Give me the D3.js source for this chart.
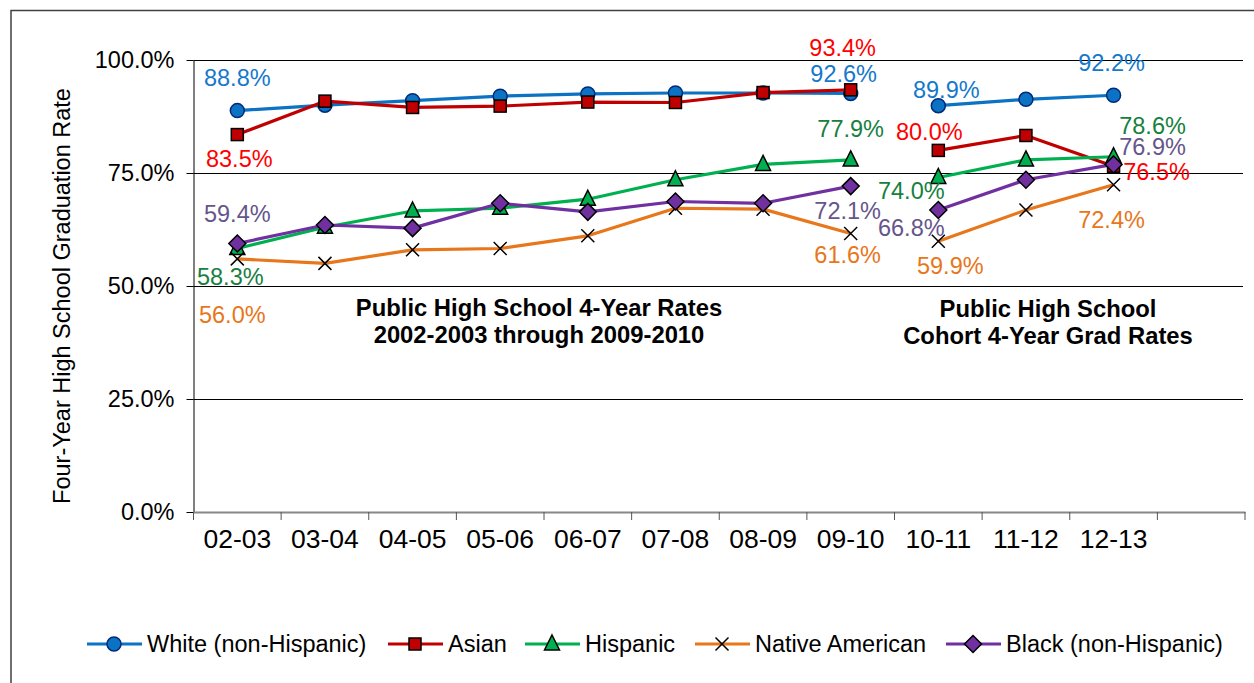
<!DOCTYPE html>
<html>
<head>
<meta charset="utf-8">
<script src="https://cdn.jsdelivr.net/npm/d3@7"></script>
<style>
  body { margin: 0; background: #fff; }
  text { font-family: "Liberation Sans", Arial, sans-serif; }
</style>
</head>
<body>
<svg id="chart" width="1254" height="683"></svg>
<script>
// school years on the x axis (last slot is empty in the original)
var years = ["02-03", "03-04", "04-05", "05-06", "06-07", "07-08", "08-09", "09-10", "10-11", "11-12", "12-13"];
var yTicks = [0, 25, 50, 75, 100];

// graduation rates (%)
var white    = [88.8, 90.0, 91.0, 92.0, 92.5, 92.7, 92.7, 92.6, 89.9, 91.3, 92.2];
var asian    = [83.5, 90.9, 89.5, 89.8, 90.7, 90.6, 92.8, 93.4, 80.0, 83.3, 76.5];
var hispanic = [58.3, 63.0, 66.6, 67.2, 69.2, 73.5, 76.9, 77.9, 74.0, 77.9, 78.6];
var native   = [56.0, 55.0, 58.0, 58.3, 61.1, 67.2, 67.0, 61.6, 59.9, 66.8, 72.4];
var black    = [59.4, 63.5, 62.8, 68.3, 66.4, 68.7, 68.3, 72.1, 66.8, 73.5, 76.9];

// the 4-year rate series ends at 09-10, cohort rates start at 10-11
var breakAt = 8;

var series = [
  { name: "White (non-Hispanic)", values: white, line: "#0c72c4", label: "#1478cc", marker: "circle" },
  { name: "Asian", values: asian, line: "#c00000", label: "#ff0000", marker: "square" },
  { name: "Hispanic", values: hispanic, line: "#00b050", label: "#16803e", marker: "triangle" },
  { name: "Native American", values: native, line: "#e8761a", label: "#e8761a", marker: "cross" },
  { name: "Black (non-Hispanic)", values: black, line: "#7030a0", label: "#66558c", marker: "diamond" }
];

// which points get a value label, and where the label sits relative to the point
var labelSpots = {
  "White (non-Hispanic)": [[0, 0, -33], [7, -7, -20], [8, 8, -16], [10, -2, -32]],
  "Asian": [[0, 2, 24], [7, -8, -42], [8, -9, -19], [10, 43, 6]],
  "Hispanic": [[0, -7, 28], [7, 0, -31], [8, -27, 13], [10, 39, -31]],
  "Native American": [[0, -5, 56], [7, -3, 21], [8, 12, 25], [10, -2, 35]],
  "Black (non-Hispanic)": [[0, 0, -30], [7, -3, 25], [8, -27, 18], [10, 39, -18]]
};

var svg = d3.select("#chart");

// outer frame
svg.append("rect")
  .attr("x", 11).attr("y", 10.5)
  .attr("width", 1400).attr("height", 800)
  .attr("fill", "none")
  .attr("stroke", "#404040")
  .attr("stroke-width", 1.5);

var plotLeft = 193.5, plotRight = 1245, plotTop = 60, plotBottom = 512;

var x = d3.scaleBand()
  .domain(years.concat([""]))
  .range([plotLeft, plotRight])
  .padding(0);
var y = d3.scaleLinear().domain([0, 100]).range([plotBottom, plotTop]);

var cx = function (i) { return x(years[i]) + x.bandwidth() / 2; };

// horizontal gridlines
svg.append("g")
  .selectAll("line")
  .data(yTicks.filter(function (d) { return d > 0; }))
  .enter()
  .append("line")
  .attr("x1", plotLeft).attr("x2", 1243)
  .attr("y1", function (d) { return Math.round(y(d)) + 0.5; })
  .attr("y2", function (d) { return Math.round(y(d)) + 0.5; })
  .attr("stroke", "#000")
  .attr("stroke-width", 1);

// y axis
var yAxis = svg.append("g")
  .attr("transform", "translate(" + plotLeft + ",0)")
  .call(d3.axisLeft(y).tickValues(yTicks).tickSize(7).tickSizeOuter(0)
    .tickFormat(function (d) { return d.toFixed(1) + "%"; }));
yAxis.select(".domain").attr("stroke", "#000");
yAxis.selectAll(".tick line").attr("stroke", "#000");
yAxis.selectAll(".tick text")
  .attr("x", -19)
  .attr("font-size", "23.5px")
  .attr("fill", "#000")
  .style("font-family", "'Liberation Sans', Arial, sans-serif");

// x axis: labels at band centres, tick marks at band edges
var xAxis = svg.append("g")
  .attr("transform", "translate(0," + plotBottom + ")")
  .call(d3.axisBottom(x).tickValues(years).tickSize(0).tickSizeOuter(0));
xAxis.select(".domain").attr("stroke", "#888").attr("stroke-width", 2);
xAxis.selectAll(".tick text")
  .attr("y", 17)
  .attr("font-size", "26.5px")
  .attr("fill", "#000")
  .style("font-family", "'Liberation Sans', Arial, sans-serif");
svg.append("g")
  .selectAll("line")
  .data(x.domain())
  .enter()
  .append("line")
  .attr("x1", function (d) { return x(d); })
  .attr("x2", function (d) { return x(d); })
  .attr("y1", plotBottom).attr("y2", plotBottom + 8)
  .attr("stroke", "#555");
svg.append("line")
  .attr("x1", plotRight).attr("x2", plotRight)
  .attr("y1", plotBottom).attr("y2", plotBottom + 8)
  .attr("stroke", "#555");

// y axis title
svg.append("text")
  .attr("transform", "translate(70,296) rotate(-90)")
  .attr("text-anchor", "middle")
  .attr("font-size", "23.5px")
  .text("Four-Year High School Graduation Rate");

// annotations
function block(cxp, cyp, lines) {
  var t = svg.append("text")
    .attr("text-anchor", "middle")
    .attr("font-size", "23.8px")
    .attr("font-weight", "bold");
  lines.forEach(function (l, i) {
    t.append("tspan").attr("x", cxp).attr("y", cyp + i * 26.5).text(l);
  });
}
block(539, 316, ["Public High School 4-Year Rates", "2002-2003 through 2009-2010"]);
block(1048, 317, ["Public High School", "Cohort 4-Year Grad Rates"]);

function drawMarker(g, type, color) {
  if (type === "circle") {
    g.append("circle").attr("r", 7).attr("fill", color).attr("stroke", "#002a7a").attr("stroke-width", 1.5);
  } else if (type === "square") {
    g.append("rect").attr("x", -6).attr("y", -6).attr("width", 12).attr("height", 12)
      .attr("fill", color).attr("stroke", "#000").attr("stroke-width", 1.5);
  } else if (type === "triangle") {
    g.append("path").attr("d", "M0,-9L7.5,6L-7.5,6Z")
      .attr("fill", color).attr("stroke", "#000").attr("stroke-width", 1.5);
  } else if (type === "diamond") {
    g.append("path").attr("d", "M0,-8.5L8.5,0L0,8.5L-8.5,0Z")
      .attr("fill", color).attr("stroke", "#000").attr("stroke-width", 1.5);
  } else if (type === "cross") {
    g.append("path").attr("d", "M-6.5,-6.5L6.5,6.5M-6.5,6.5L6.5,-6.5")
      .attr("fill", "none").attr("stroke", "#000").attr("stroke-width", 1.5);
  }
}

var line = d3.line()
  .x(function (d) { return cx(d.i); })
  .y(function (d) { return y(d.v); });

series.forEach(function (s) {
  var pts = s.values.map(function (v, i) { return { i: i, v: v }; });
  var g = svg.append("g");
  [pts.slice(0, breakAt), pts.slice(breakAt)].forEach(function (seg) {
    g.append("path")
      .attr("d", line(seg))
      .attr("fill", "none")
      .attr("stroke", s.line)
      .attr("stroke-width", 3.2)
      .attr("stroke-linejoin", "round");
  });
  pts.forEach(function (p) {
    var m = g.append("g").attr("transform", "translate(" + cx(p.i) + "," + y(p.v) + ")");
    drawMarker(m, s.marker, s.line);
  });
});

// value labels
series.forEach(function (s) {
  labelSpots[s.name].forEach(function (spot) {
    var i = spot[0];
    svg.append("text")
      .attr("x", cx(i) + spot[1])
      .attr("y", y(s.values[i]) + spot[2])
      .attr("dy", "0.35em")
      .attr("text-anchor", "middle")
      .attr("font-size", "23.5px")
      .attr("fill", s.label)
      .text(s.values[i].toFixed(1) + "%");
  });
});

// legend
var legendX = [87, 388, 525, 695, 946];
var legend = svg.append("g").attr("transform", "translate(0,644)");
series.forEach(function (s, k) {
  var lg = legend.append("g").attr("transform", "translate(" + legendX[k] + ",0)");
  lg.append("line").attr("x1", 0).attr("x2", 55).attr("y1", 0).attr("y2", 0)
    .attr("stroke", s.line).attr("stroke-width", 3.2);
  var m = lg.append("g").attr("transform", "translate(27,0)");
  drawMarker(m, s.marker, s.line);
  lg.append("text")
    .attr("x", 60).attr("y", 0).attr("dy", "0.35em")
    .attr("font-size", "23.5px")
    .text(s.name);
});
</script>
</body>
</html>
